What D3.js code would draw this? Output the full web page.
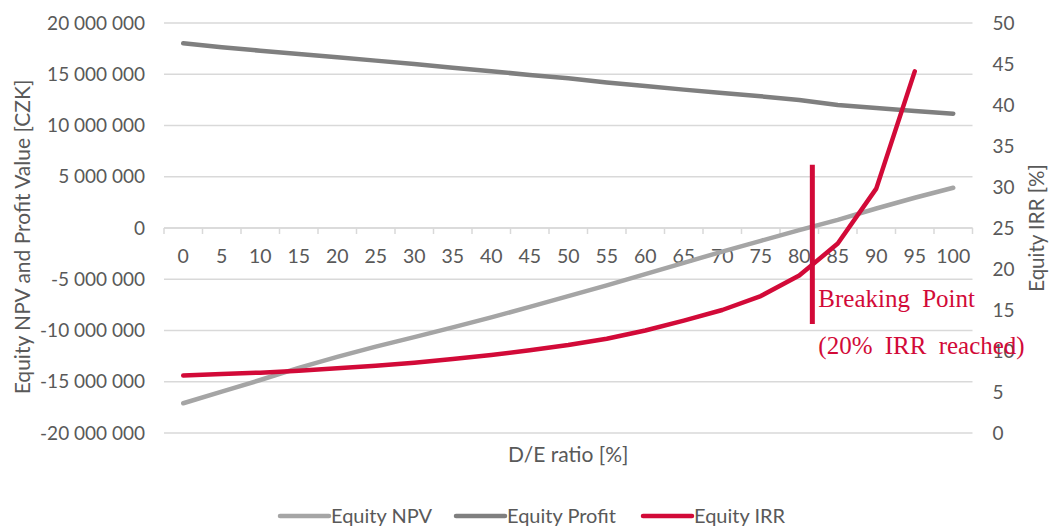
<!DOCTYPE html>
<html>
<head>
<meta charset="utf-8">
<script src="https://cdn.jsdelivr.net/npm/d3@7"></script>
<style>
  html, body { margin: 0; padding: 0; background: #fff; }
  svg { display: block; }
  text { font-family: "Lato", "Open Sans", sans-serif; fill: #595959; }
</style>
</head>
<body>
<svg id="chart" width="1051" height="526"></svg>
<script>
// ---- data ----
const categories = [0,5,10,15,20,25,30,35,40,45,50,55,60,65,70,75,80,85,90,95,100];
const equityNPV = [-17100000,-15970000,-14830000,-13650000,-12580000,-11580000,-10650000,-9700000,-8720000,-7700000,-6650000,-5600000,-4500000,-3400000,-2300000,-1250000,-200000,800000,1900000,2950000,3930000];
const equityProfit = [18020000,17630000,17300000,16970000,16650000,16330000,16000000,15640000,15290000,14930000,14600000,14200000,13850000,13500000,13170000,12850000,12490000,12000000,11700000,11410000,11150000];
const equityIRR = [7.0,7.2,7.36,7.6,7.89,8.21,8.58,9.02,9.51,10.1,10.73,11.5,12.5,13.7,15.0,16.7,19.2,23.1,29.8,44.1];
const leftTicks = [-20000000,-15000000,-10000000,-5000000,0,5000000,10000000,15000000,20000000];
const rightTicks = [0,5,10,15,20,25,30,35,40,45,50];
const seriesNames = ["Equity NPV","Equity Profit","Equity IRR"];
const breakPoint = { de: 81.7, irrFrom: 13.3, irrTo: 32.7 };
const annotation = ["Breaking Point", "(20% IRR reached)"];

// ---- layout ----
const colors = { npv: "#A5A5A5", profit: "#7F7F7F", irr: "#D20A38", grid: "#D9D9D9" };
const plot = { left: 164, right: 972.5, top: 23, bottom: 433 };

const svg = d3.select("#chart");

const x = d3.scaleBand().domain(categories).range([plot.left, plot.right]).padding(0);
const xc = d => x(d) + x.bandwidth() / 2;
const xLin = d3.scaleLinear().domain([categories[0], categories[categories.length-1]])
  .range([xc(categories[0]), xc(categories[categories.length-1])]);
const yL = d3.scaleLinear().domain([-20000000, 20000000]).range([plot.bottom, plot.top]);
const yR = d3.scaleLinear().domain([0, 50]).range([plot.bottom, plot.top]);

const loc = d3.formatLocale({ decimal: ",", thousands: "\u00a0", grouping: [3], currency: ["", ""], minus: "-" });
const fmt = loc.format(",d");

// gridlines
svg.append("g").selectAll("line").data(leftTicks).join("line")
  .attr("x1", plot.left).attr("x2", plot.right)
  .attr("y1", d => yL(d)).attr("y2", d => yL(d))
  .attr("stroke", colors.grid).attr("stroke-width", 1.5);

// left axis labels
const leftAxis = d3.axisLeft(yL).tickValues(leftTicks).tickFormat(fmt).tickSize(0).tickPadding(19);
const gl = svg.append("g").attr("transform", `translate(${plot.left},0)`).call(leftAxis);
gl.select(".domain").remove();
gl.selectAll("text").style("font-size", "19px").attr("fill", "#595959").attr("font-family", null);

// right axis labels
const rightAxis = d3.axisRight(yR).tickValues(rightTicks).tickFormat(d3.format("d")).tickSize(0).tickPadding(20);
const gr = svg.append("g").attr("transform", `translate(${plot.right},0)`).call(rightAxis);
gr.select(".domain").remove();
gr.selectAll("text").style("font-size", "19px").attr("fill", "#595959").attr("font-family", null);

// x axis at zero with ticks at category boundaries
const gx = svg.append("g").attr("transform", `translate(0,${yL(0)})`);
gx.append("line").attr("x1", plot.left).attr("x2", plot.right).attr("y1", 0).attr("y2", 0)
  .attr("stroke", colors.grid).attr("stroke-width", 1.5);
const bounds = categories.map(c => x(c)).concat([plot.right]);
gx.selectAll("line.tk").data(bounds).join("line").attr("class", "tk")
  .attr("x1", d => d).attr("x2", d => d).attr("y1", 0).attr("y2", 6)
  .attr("stroke", colors.grid).attr("stroke-width", 1.5);
gx.selectAll("text").data(categories).join("text")
  .attr("x", d => xc(d)).attr("y", 35)
  .attr("text-anchor", "middle").style("font-size", "19.5px").text(d => d);

// lines
const lineL = d3.line().x((d, i) => xc(categories[i])).y(d => yL(d));
const lineR = d3.line().x((d, i) => xc(categories[i])).y(d => yR(d));
svg.append("path").datum(equityNPV).attr("d", lineL).attr("fill", "none")
  .attr("stroke", colors.npv).attr("stroke-width", 4.5).attr("stroke-linecap", "round").attr("stroke-linejoin", "round");
svg.append("path").datum(equityProfit).attr("d", lineL).attr("fill", "none")
  .attr("stroke", colors.profit).attr("stroke-width", 4.5).attr("stroke-linecap", "round").attr("stroke-linejoin", "round");
svg.append("path").datum(equityIRR).attr("d", lineR).attr("fill", "none")
  .attr("stroke", colors.irr).attr("stroke-width", 4.5).attr("stroke-linecap", "round").attr("stroke-linejoin", "round");

// breaking point annotation
svg.append("line")
  .attr("x1", xLin(breakPoint.de)).attr("x2", xLin(breakPoint.de))
  .attr("y1", yR(breakPoint.irrTo)).attr("y2", yR(breakPoint.irrFrom))
  .attr("stroke", colors.irr).attr("stroke-width", 5);
const ann = svg.append("g");
ann.selectAll("text").data(annotation).join("text")
  .attr("x", xLin(breakPoint.de) + 6)
  .attr("y", (d, i) => yR(breakPoint.irrFrom) - 17 + i * 47)
  .style("font-family", "'Liberation Serif', 'DejaVu Serif', serif")
  .style("font-size", "25px").style("word-spacing", "6px")
  .style("fill", colors.irr).text(d => d);

// axis titles
svg.append("text").attr("transform", `translate(30,237) rotate(-90)`)
  .attr("text-anchor", "middle").style("font-size", "21px").text("Equity NPV and Profit Value [CZK]");
svg.append("text").attr("transform", `translate(1044,228) rotate(-90)`)
  .attr("text-anchor", "middle").style("font-size", "20.5px").text("Equity IRR [%]");
svg.append("text").attr("x", (plot.left + plot.right) / 2).attr("y", 462)
  .attr("text-anchor", "middle").style("font-size", "21px").text("D/E ratio [%]");

// legend
const legendCols = [colors.npv, colors.profit, colors.irr];
const legendX = [280, 456, 643];
const lg = svg.append("g").selectAll("g").data(seriesNames).join("g")
  .attr("transform", (d, i) => `translate(${legendX[i]},516)`);
lg.append("line").attr("x1", 0).attr("x2", 49).attr("y1", 0).attr("y2", 0)
  .attr("stroke", (d, i) => legendCols[i]).attr("stroke-width", 4.5).attr("stroke-linecap", "round");
lg.append("text").attr("x", 51).attr("y", 7).style("font-size", "20px").text(d => d);
</script>
</body>
</html>
